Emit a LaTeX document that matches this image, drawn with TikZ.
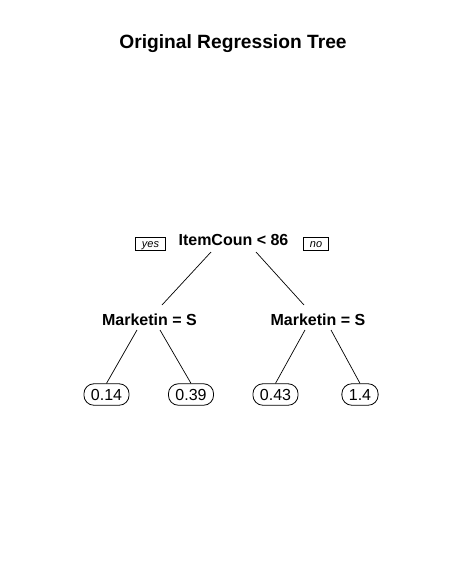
\documentclass[tikz,border=0pt]{standalone}
\usepackage{fontspec}
\setmainfont{Liberation Sans}
\usepackage{tikz}

\begin{document}
\begin{tikzpicture}[x=1pt, y=-1pt,
    split/.style={inner sep=0pt, font=\bfseries\fontsize{16}{19}\selectfont},
    leaf/.style={draw, rounded corners=10pt, line width=0.8pt, inner xsep=7pt, inner ysep=5pt, text height=11.5pt, text depth=0pt, font=\fontsize{16}{19}\selectfont},
    tag/.style={draw, line width=0.6pt, inner xsep=6.5pt, inner ysep=1.5pt, text height=8pt, text depth=1.5pt, font=\itshape\fontsize{11}{13}\selectfont},
    edge/.style={line width=0.7pt}]
\useasboundingbox (0,0) rectangle (464,582);

% Title
\node[anchor=base, inner sep=0pt, font=\bfseries\fontsize{19.2}{23}\selectfont] (Title) at (233,48.5) {Original Regression Tree};

% Splits
\node[split, anchor=base] (Root) at (233.5,245.5) {ItemCoun < 86};
\node[split, anchor=base] (MarketinL) at (149.5,325) {Marketin = S};
\node[split, anchor=base] (MarketinR) at (318,325) {Marketin = S};

% Branch labels
\node[tag] (Yes) at (150.5,244) {yes};
\node[tag] (No) at (316,244) {no};

% Leaves
\node[leaf] (LeafA) at (106.5,394.5) {0.14};
\node[leaf] (LeafB) at (191,394.5) {0.39};
\node[leaf] (LeafC) at (275.5,394.5) {0.43};
\node[leaf] (LeafD) at (360,394.5) {1.4};

% Edges
\draw[edge] ([shift={(-22.5,6.5)}]Root.base) -- ([shift={(12.5,-20)}]MarketinL.base);
\draw[edge] ([shift={(22.5,6.5)}]Root.base) -- ([shift={(-14,-20)}]MarketinR.base);
\draw[edge] ([shift={(-12.5,5)}]MarketinL.base) -- (LeafA.north);
\draw[edge] ([shift={(10.5,5)}]MarketinL.base) -- (LeafB.north);
\draw[edge] ([shift={(-13,5)}]MarketinR.base) -- (LeafC.north);
\draw[edge] ([shift={(13,5)}]MarketinR.base) -- (LeafD.north);
\end{tikzpicture}
\end{document}
